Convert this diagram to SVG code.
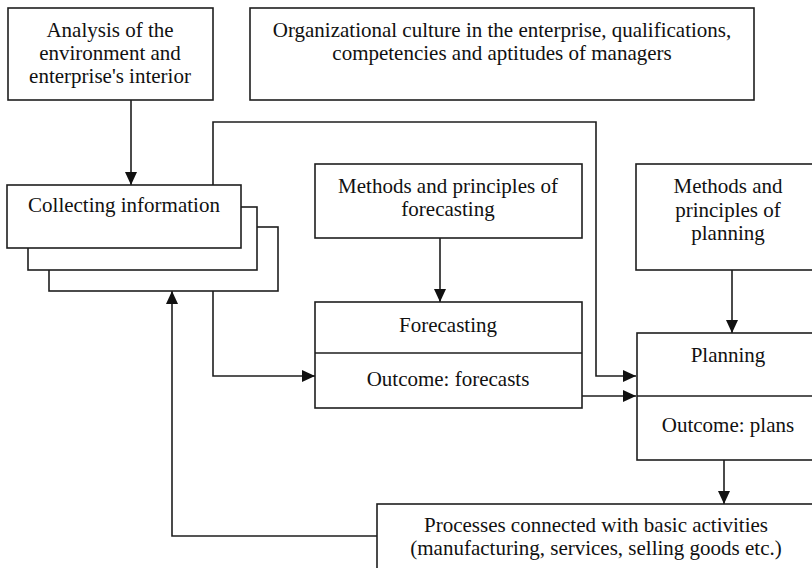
<svg xmlns="http://www.w3.org/2000/svg" width="812" height="568" viewBox="0 0 812 568">
<style>
.box{fill:#fff;stroke:#1e1e1e;stroke-width:1.6}
.ln{fill:none;stroke:#1e1e1e;stroke-width:1.6}
text{font-family:"Liberation Serif","Times New Roman",serif;font-size:21px;fill:#111;text-anchor:middle}
</style>
<defs>
<marker id="ah" markerUnits="userSpaceOnUse" markerWidth="13" markerHeight="12" refX="13" refY="6" orient="auto">
<path d="M0,0 L13,6 L0,12 Z" fill="#111"/>
</marker>
</defs>
<rect width="812" height="568" fill="#fff"/>
<g id="connectors">
<path class="ln" d="M131,100 V185" marker-end="url(#ah)"/>
<path class="ln" d="M213,185 V122 H596 V376 H636" marker-end="url(#ah)"/>
<path class="ln" d="M213,291 V376 H315" marker-end="url(#ah)"/>
<path class="ln" d="M440,238 V302" marker-end="url(#ah)"/>
<path class="ln" d="M582,396 H636" marker-end="url(#ah)"/>
<path class="ln" d="M732,270 V333" marker-end="url(#ah)"/>
<path class="ln" d="M724,460 V504" marker-end="url(#ah)"/>
<path class="ln" d="M377,536 H172 V291" marker-end="url(#ah)"/>
</g>
<g id="analysis">
<rect class="box" x="8" y="8" width="205" height="92"/>
<text x="110" y="37">Analysis of the</text>
<text x="110" y="60">environment and</text>
<text x="110" y="83">enterprise's interior</text>
</g>
<g id="culture">
<rect class="box" x="250" y="8" width="504" height="92"/>
<text x="502" y="37">Organizational culture in the enterprise, qualifications,</text>
<text x="502" y="60">competencies and aptitudes of managers</text>
</g>
<g id="collecting">
<rect class="box" x="49" y="227" width="229" height="64"/>
<rect class="box" x="28" y="207" width="229" height="63"/>
<rect class="box" x="7" y="185" width="234" height="63"/>
<text x="124" y="212">Collecting information</text>
</g>
<g id="methods-forecasting">
<rect class="box" x="315" y="164" width="267" height="74"/>
<text x="448" y="193">Methods and principles of</text>
<text x="448" y="216">forecasting</text>
</g>
<g id="forecasting">
<rect class="box" x="315" y="302" width="267" height="106"/>
<path class="ln" d="M315,353 H582"/>
<text x="448" y="332">Forecasting</text>
<text x="448" y="386">Outcome: forecasts</text>
</g>
<g id="methods-planning">
<rect class="box" x="636" y="164" width="186" height="106"/>
<text x="728" y="193">Methods and</text>
<text x="728" y="217">principles of</text>
<text x="728" y="240">planning</text>
</g>
<g id="planning">
<rect class="box" x="637" y="333" width="185" height="127"/>
<path class="ln" d="M637,396 H822"/>
<text x="728" y="362">Planning</text>
<text x="728" y="432">Outcome: plans</text>
</g>
<g id="processes">
<rect class="box" x="377" y="504" width="445" height="80"/>
<text x="596" y="532">Processes connected with basic activities</text>
<text x="596" y="555">(manufacturing, services, selling goods etc.)</text>
</g>
</svg>
